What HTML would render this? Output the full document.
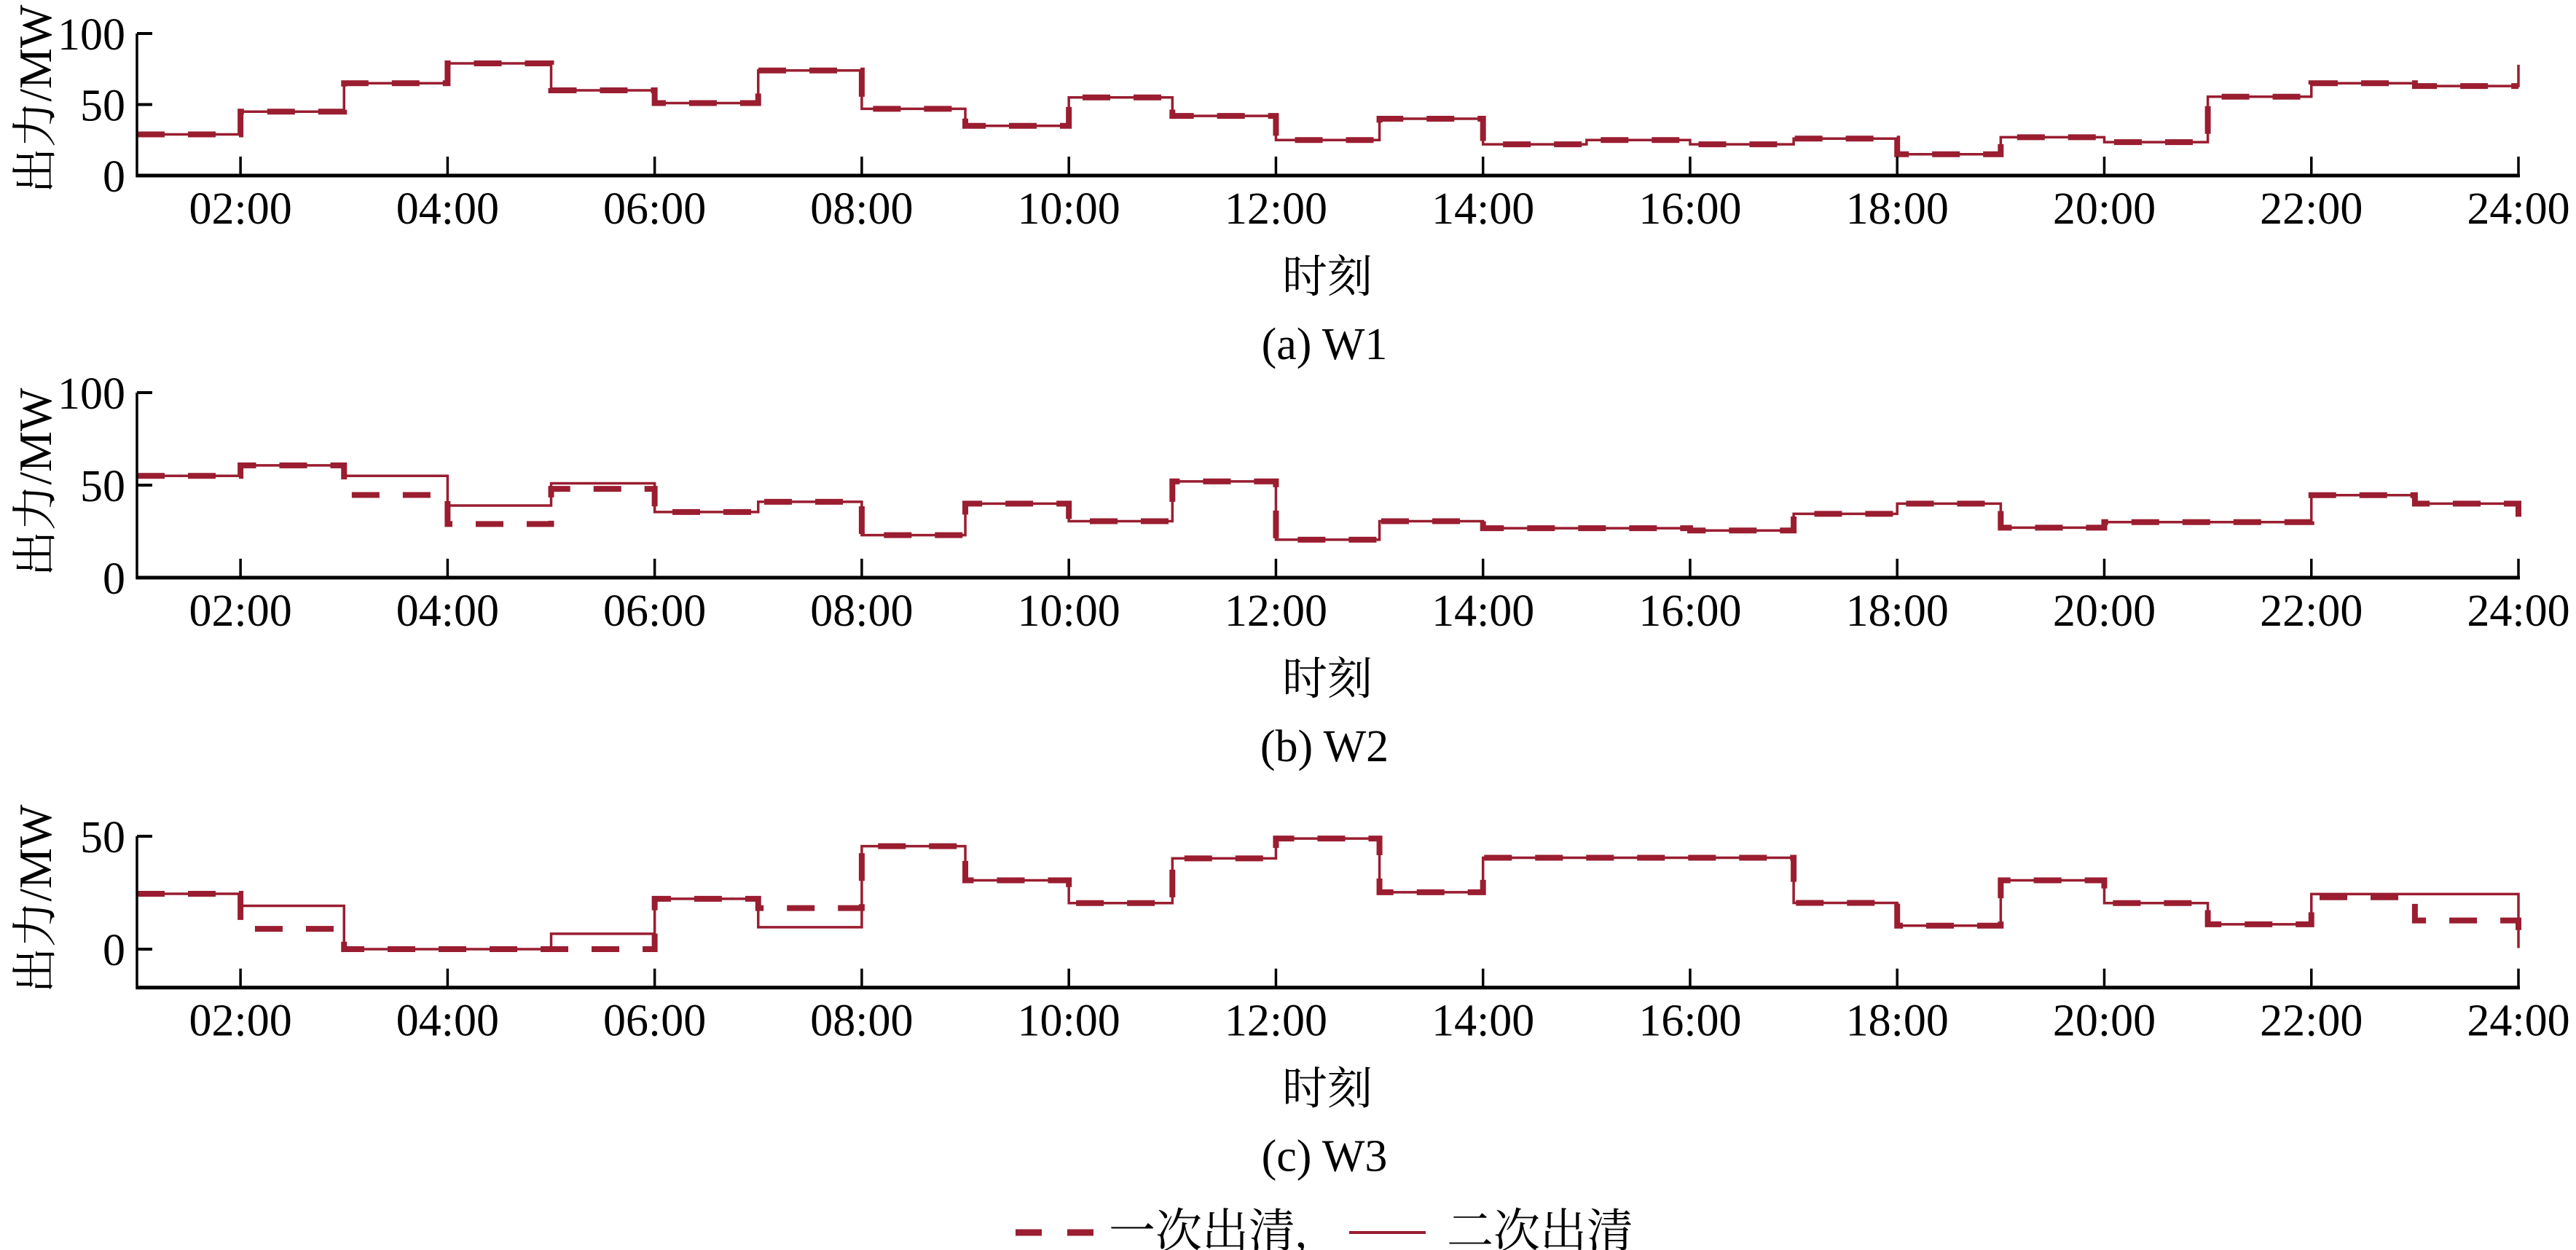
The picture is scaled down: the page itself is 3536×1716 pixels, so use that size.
<!DOCTYPE html>
<html><head><meta charset="utf-8">
<style>
html,body{margin:0;padding:0;background:#fff;}
svg{display:block;}
text{font-family:"Liberation Serif","Noto Serif CJK SC",serif;fill:#000;}
</style></head>
<body>
<svg id="chart" width="3536" height="1716" viewBox="0 0 3536 1716" xmlns="http://www.w3.org/2000/svg">
  <g id="legend">
    <line x1="1394" y1="1692" x2="1501" y2="1692" stroke="#9a1d30" stroke-width="9" stroke-dasharray="36,35"/>
    <text x="1522" y="1712" font-size="64">一次出清,</text>
    <line x1="1852" y1="1692" x2="1957" y2="1692" stroke="#9a1d30" stroke-width="4"/>
    <text x="1986" y="1712" font-size="64">二次出清</text>
  </g>
</svg>
<script>
// x axis: hours 1..24
const hours = [1,2,3,4,5,6,7,8,9,10,11,12,13,14,15,16,17,18,19,20,21,22,23,24];
const xTickHours = [2,4,6,8,10,12,14,16,18,20,22,24];
const xTickLabels = ["02:00","04:00","06:00","08:00","10:00","12:00","14:00","16:00","18:00","20:00","22:00","24:00"];
// W1
const w1First  = [29,45,65,79,60,51,74,47,35,55,42,25,40,22,25,22,26,15,27,23.5,55.5,65,63,63];
const w1Second = [29,45,65,79,60,51,74,47,35,55,42,25,40,22,25,22,26,15,27,23.5,55.5,65,63,78];
const w1YTicks = [0,50,100];
// W2
const w2First  = [55,60.7,44.7,29,48,35.5,41,23,40,30.5,52,20.5,30.5,26.7,26.7,25.5,34.5,40,27,30,30,44.6,40,22];
const w2Second = [55,60.7,55,39,51,35.5,41,23,40,30.5,52,20.5,30.5,26.7,26.7,25.5,34.5,40,27,30,30,44.6,40,40];
const w2YTicks = [0,50,100];
// W3
const w3First  = [24.5,9,0,0,0,22.3,18.2,45.6,30.5,20.4,40.2,49,25.2,40.5,40.5,40.5,20.5,10.4,30.5,20.4,11,23,12.7,6];
const w3Second = [24.5,19.2,0,0,6.8,22.3,9.7,45.6,30.5,20.4,40.2,49,25.2,40.5,40.5,40.5,20.5,10.4,30.5,20.4,11,24.4,24.4,0.5];
const w3YTicks = [0,50];

const NS = "http://www.w3.org/2000/svg";
const svg = document.getElementById("chart");
const COLOR = "#9a1d30";
const X0 = 188, X1 = 3457, H0 = 1, H1 = 24;
function xScale(h){ return X0 + (h - H0) / (H1 - H0) * (X1 - X0); }

function mk(tag, attrs, parent){
  const e = document.createElementNS(NS, tag);
  for (const k in attrs) e.setAttribute(k, attrs[k]);
  parent.appendChild(e);
  return e;
}

function stairPath(vals, yScale){
  let d = "M" + xScale(hours[0]) + "," + yScale(vals[0]);
  for (let i = 1; i < vals.length; i++){
    d += " H" + xScale(hours[i]) + " V" + yScale(vals[i]);
  }
  return d;
}

function panel(id, first, second, yTicks, cfg){
  const yScale = v => cfg.pZero + (cfg.pRef - cfg.pZero) * v / cfg.vRef;
  const g = mk("g", {}, svg);
  
  
  const axisBottom = yScale(cfg.vMin);
  const axisTop = yScale(cfg.vMax);
  // series
  const p1 = mk("path", {d: stairPath(first, yScale), fill: "none", stroke: COLOR, "stroke-width": 8, "stroke-dasharray": "38,32"}, g);
  
  
  const p2 = mk("path", {d: stairPath(second, yScale), fill: "none", stroke: COLOR, "stroke-width": 3.5}, g);
  
  
  // axes
  const yAxis = mk("line", {x1: X0, y1: axisTop, x2: X0, y2: axisBottom + 2, stroke: "#000", "stroke-width": 3.5}, g);
  
  
  const xAxis = mk("line", {x1: X0 - 1.5, y1: axisBottom, x2: X1 + 2, y2: axisBottom, stroke: "#000", "stroke-width": 5}, g);
  
  
  // y ticks
  yTicks.forEach(v => {
    const y = yScale(v);
    const t = mk("line", {x1: X0, y1: y, x2: X0 + 21, y2: y, stroke: "#000", "stroke-width": 4}, g);
    
    
    const l = mk("text", {x: 172, y: y + 22, "font-size": 62, "text-anchor": "end"}, g);
    l.textContent = String(v);
    
    
  });
  // x ticks
  xTickHours.forEach((h, i) => {
    const x = xScale(h);
    const t = mk("line", {x1: x, y1: axisBottom, x2: x, y2: axisBottom - 26, stroke: "#000", "stroke-width": 3.5}, g);
    
    
    const l = mk("text", {x: x, y: axisBottom + 66, "font-size": 62, "text-anchor": "middle"}, g);
    l.textContent = xTickLabels[i];
    
    
  });
  // x title
  const xt = mk("text", {x: 1822, y: axisBottom + 160, "font-size": 62, "text-anchor": "middle"}, g);
  xt.textContent = "时刻";
  
  
  // caption
  const cap = mk("text", {x: 1818, y: axisBottom + 252, "font-size": 62, "text-anchor": "middle"}, g);
  cap.textContent = cfg.caption;
  
  
  // y title
  const yc = cfg.yTitleY;
  const yt = mk("text", {x: 0, y: 0, "font-size": 63, "text-anchor": "middle", transform: "translate(70," + yc + ") rotate(-90)"}, g);
  yt.textContent = "出力/MW";
  
  
}

panel("w1", w1First, w1Second, w1YTicks, {pZero: 241, pRef: 46, vRef: 100, vMin: 0, vMax: 100, caption: "(a)  W1", yTitleY: 136});
panel("w2", w2First, w2Second, w2YTicks, {pZero: 793, pRef: 539, vRef: 100, vMin: 0, vMax: 100, caption: "(b)  W2", yTitleY: 662});
panel("w3", w3First, w3Second, w3YTicks, {pZero: 1303, pRef: 1148, vRef: 50, vMin: -17, vMax: 50, caption: "(c)  W3", yTitleY: 1234});
</script>
</body></html>
